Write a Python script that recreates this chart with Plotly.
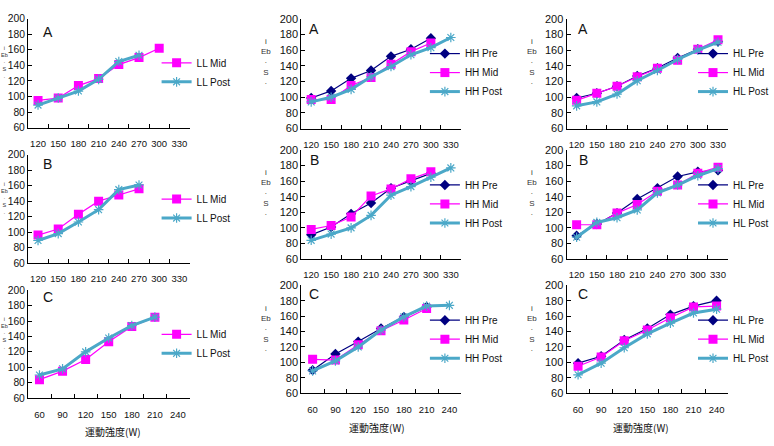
import plotly.graph_objects as go

# ---------------- data ----------------
cats_AB = ["120", "150", "180", "210", "240", "270", "300", "330"]
cats_C = ["60", "90", "120", "150", "180", "210", "240"]
y_ticks = [60, 80, 100, 120, 140, 160, 180, 200]

LL_A_mid = [95, 98, 114, 123, 141, 150, 162, None]
LL_A_post = [89, 98, 107, 122, 145, 153, None, None]
HH_A_pre = [99, 108, 124, 134, 152, 161, 175, None]
HH_A_mid = [97, 97, 115, 125, 142, 158, 169, None]
HH_A_post = [94, 100, 110, 126, 139, 154, 163, 176]
HL_A_pre = [99, 105, 114, 127, 137, 150, 161, 171]
HL_A_mid = [96, 105, 114, 126, 137, 147, 161, 173]
HL_A_post = [89, 94, 104, 121, 134, 148, 160, 170]

LL_B_mid = [96, 104, 123, 140, 148, 156, None, None]
LL_B_post = [89, 98, 113, 129, 155, 161, None, None]
HH_B_pre = [91, 101, 118, 132, 151, 160, 170, None]
HH_B_mid = [98, 103, 114, 141, 150, 163, 172, None]
HH_B_post = [84, 92, 100, 116, 142, 153, 165, 177]
HL_B_pre = [90, 105, 119, 137, 151, 166, 172, 174]
HL_B_mid = [104, 104, 119, 130, 147, 155, 170, 178]
HL_B_post = [88, 107, 113, 123, 145, 155, 167, 176]

LL_C_mid = [84, 95, 110, 133, 153, 165, None]
LL_C_post = [90, 98, 120, 138, 154, 165, None]
HH_C_pre = [90, 111, 127, 144, 159, 172, None]
HH_C_mid = [104, 103, 123, 141, 155, 170, None]
HH_C_post = [89, 102, 120, 142, 159, 173, 174]
HL_C_pre = [99, 108, 129, 144, 162, 173, 180]
HL_C_mid = [95, 107, 128, 142, 158, 172, 173]
HL_C_post = [84, 99, 119, 137, 151, 164, 169]

panel_letters = ["A", "B", "C"]
x_title = "運動強度(W)"
y_title = "i<br>Eb<br>·<br>S<br>·"

# ---------------- styling ----------------
W, H = 774, 446
COL_PRE = "#000080"
COL_MID = "#FF00FF"
COL_POST = "#4BA8C8"
FONT = "Liberation Sans, Arial, sans-serif"

# plot-area pixel boxes: (x0, x1, y0, y1)
col_x = [(28, 190), (302, 462), (568, 730)]
row_y = {
    0: [(13, 125), (153, 264), (292, 403)],
    1: [(13, 126), (148, 260), (287, 398)],
    2: [(13, 126), (148, 260), (287, 398)],
}

series = {
    (0, 0): [("LL Mid", "mid", LL_A_mid), ("LL Post", "post", LL_A_post)],
    (0, 1): [("LL Mid", "mid", LL_B_mid), ("LL Post", "post", LL_B_post)],
    (0, 2): [("LL Mid", "mid", LL_C_mid), ("LL Post", "post", LL_C_post)],
    (1, 0): [("HH Pre", "pre", HH_A_pre), ("HH Mid", "mid", HH_A_mid), ("HH Post", "post", HH_A_post)],
    (1, 1): [("HH Pre", "pre", HH_B_pre), ("HH Mid", "mid", HH_B_mid), ("HH Post", "post", HH_B_post)],
    (1, 2): [("HH Pre", "pre", HH_C_pre), ("HH Mid", "mid", HH_C_mid), ("HH Post", "post", HH_C_post)],
    (2, 0): [("HL Pre", "pre", HL_A_pre), ("HL Mid", "mid", HL_A_mid), ("HL Post", "post", HL_A_post)],
    (2, 1): [("HL Pre", "pre", HL_B_pre), ("HL Mid", "mid", HL_B_mid), ("HL Post", "post", HL_B_post)],
    (2, 2): [("HL Pre", "pre", HL_C_pre), ("HL Mid", "mid", HL_C_mid), ("HL Post", "post", HL_C_post)],
}

style = {
    "pre": dict(line=dict(color=COL_PRE, width=1.2),
                marker=dict(symbol="diamond", size=8, color=COL_PRE)),
    "mid": dict(line=dict(color=COL_MID, width=1.2),
                marker=dict(symbol="square", size=9, color=COL_MID)),
    "post": dict(line=dict(color=COL_POST, width=3),
                 marker=dict(symbol="asterisk-open", size=8,
                             line=dict(color=COL_POST, width=1.2))),
}

fig = go.Figure()
layout = dict(
    width=W, height=H,
    margin=dict(l=0, r=0, t=0, b=0),
    paper_bgcolor="white", plot_bgcolor="white",
    font=dict(family=FONT, size=10, color="#111"),
)
annotations = []

idx = 0
for c in range(3):
    for r in range(3):
        idx += 1
        sfx = "" if idx == 1 else str(idx)
        cats = cats_C if r == 2 else cats_AB
        x0, x1 = col_x[c]
        y0, y1 = row_y[c][r]
        leg = "legend" if idx == 1 else f"legend{idx}"
        for name, kind, vals in series[(c, r)]:
            fig.add_trace(go.Scatter(
                x=cats, y=vals, name=name, mode="lines+markers",
                xaxis="x" + sfx, yaxis="y" + sfx, legend=leg,
                connectgaps=False, **style[kind]))
        layout["xaxis" + sfx] = dict(
            domain=[x0 / W, x1 / W], anchor="y" + sfx,
            type="category", categoryorder="array", categoryarray=cats,
            range=[-0.5, len(cats) - 0.5],
            showline=True, linecolor="black", linewidth=1,
            ticks="inside", ticklen=4, tickcolor="black", tickson="boundaries",
            showgrid=False, zeroline=False, fixedrange=True,
            tickangle=0, ticklabelstandoff=7,
            tickfont=dict(family=FONT, size=9.5, color="#111"),
        )
        layout["yaxis" + sfx] = dict(
            domain=[1 - y1 / H, 1 - y0 / H], anchor="x" + sfx,
            range=[60, 200], tickvals=y_ticks,
            showline=True, linecolor="black", linewidth=1,
            ticks="inside", ticklen=4, tickcolor="black",
            showgrid=False, zeroline=False, fixedrange=True,
            tickfont=dict(family=FONT, size=10.3 if c == 0 else 11, color="#111"),
        )
        # legend (centred on the reference's legend centre)
        n = len(series[(c, r)])
        text_x = [197, 466, 735][c]
        mid_y = y0 + 59
        top = mid_y - 9.5 * n - 9.5
        layout[leg] = dict(
            x=(text_x - 40) / W, y=1 - top / H,
            xanchor="left", yanchor="top",
            bgcolor="rgba(0,0,0,0)", borderwidth=0,
            font=dict(family=FONT, size=10, color="#111"),
            tracegroupgap=0, itemwidth=30,
        )
        # panel letter
        annotations.append(dict(
            text=panel_letters[r], xref="paper", yref="paper",
            x=[48, 315, 585][c] / W, y=1 - ([27, 162, 299][r] if c == 0 else [24, 158, 296][r]) / H,
            xanchor="center", yanchor="middle", showarrow=False,
            font=dict(family=FONT, size=14, color="#111")))
        # garbled y-axis title
        if c == 0:
            annotations.append(dict(
                text=y_title, xref="paper", yref="paper",
                x=0.5 / W, y=1 - (y0 + 45) / H,
                xanchor="left", yanchor="middle", showarrow=False,
                borderpad=0,
                font=dict(family=FONT, size=5.5, color="#333")))
        else:
            annotations.append(dict(
                text=y_title, xref="paper", yref="paper",
                x=[0, 267, 533][c] / W, y=1 - (y0 + 45) / H,
                xanchor="center", yanchor="middle", showarrow=False,
                font=dict(family=FONT, size=8, color="#333")))
        if r == 2:
            annotations.append(dict(
                text=x_title, xref="paper", yref="paper",
                x=[113, 378, 643][c] / W, y=1 - [437, 433, 433][c] / H,
                xanchor="center", yanchor="middle", showarrow=False,
                font=dict(family="Noto Sans CJK JP", size=10, color="#111")))

layout["annotations"] = annotations
layout["showlegend"] = True
fig.update_layout(**layout)
fig.write_html("out.html")
